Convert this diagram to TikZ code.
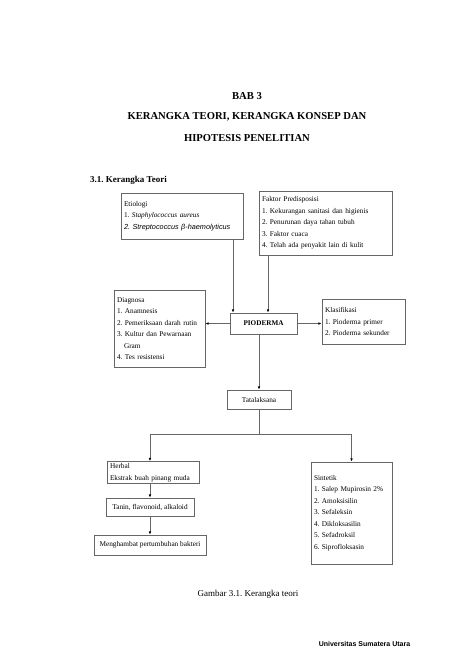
\documentclass[tikz,border=0pt]{standalone}
\usepackage{fontspec}
\setmainfont{Liberation Serif}
\setsansfont{Liberation Sans}
\usetikzlibrary{arrows.meta,calc}
\frenchspacing
\begin{document}
\begin{tikzpicture}[x=1pt,y=-1pt,
  box/.style={draw=black!60, line width=0.7pt, inner sep=0pt, align=left,
    font=\fontsize{7.3}{11.5}\selectfont},
  arr/.style={draw=black!60, line width=0.7pt, -{Latex[length=3.2pt,width=2.6pt,black]}},
  ln/.style={draw=black!60, line width=0.7pt},
  ttl/.style={font=\fontsize{10.6}{12}\selectfont\bfseries}]
\useasboundingbox (0,0) rectangle (474,669);
\fill[white] (0,0) rectangle (474,669);
% titles
\node[ttl] (bab) at (247,96) {BAB 3};
\node[ttl] (t1) at (247,117) {KERANGKA TEORI, KERANGKA KONSEP DAN};
\node[ttl] (t2) at (247,138) {HIPOTESIS PENELITIAN};
\node[font=\fontsize{9}{11}\selectfont\bfseries, anchor=west, inner sep=0pt] (sec) at (90,180) {3.1. Kerangka Teori};
% boxes
\node[box, minimum width=122pt, minimum height=46pt, text width=116pt] (etio) at (182,216)
  {Etiologi\\1. \textit{Staphylococcus aureus}\\{\sffamily\itshape 2. Streptococcus β-haemolyticus}};
\node[box, minimum width=133pt, minimum height=64pt, text width=127pt] (fakt) at (325.5,223)
  {Faktor Predisposisi\\1. Kekurangan sanitasi dan higienis\\2. Penurunan daya tahan tubuh\\3. Faktor cuaca\\4. Telah ada penyakit lain di kulit};
\node[box, minimum width=67pt, minimum height=21pt, font=\fontsize{7.2}{9}\selectfont\bfseries, align=center] (pio) at (263.5,323.5) {PIODERMA};
\node[box, minimum width=91pt, minimum height=77pt, text width=85pt] (diag) at (159.5,328.5)
  {Diagnosa\\1. Anamnesis\\2. Pemeriksaan darah rutin\\3. Kultur dan Pewarnaan\\\hspace*{7pt}Gram\\4. Tes resistensi};
\node[box, minimum width=83pt, minimum height=45pt, text width=77pt] (klas) at (363.5,321.5)
  {Klasifikasi\\1. Pioderma primer\\2. Pioderma sekunder};
\node[box, minimum width=64pt, minimum height=19pt, align=center] (tata) at (259,399.5) {Tatalaksana};
\node[box, minimum width=92pt, minimum height=22pt, text width=86pt] (herb) at (153,472.5)
  {Herbal\\Ekstrak buah pinang muda};
\node[box, minimum width=88pt, minimum height=18pt, align=center] (tan) at (150,507) {Tanin, flavonoid, alkaloid};
\node[box, minimum width=112pt, minimum height=20pt, align=center] (meng) at (150,545) {Menghambat pertumbuhan bakteri};
\node[box, minimum width=81pt, minimum height=102pt, text width=75pt] (sint) at (351.5,513)
  {Sintetik\\1. Salep Mupirosin 2\%\\2. Amoksisilin\\3. Sefaleksin\\4. Dikloksasilin\\5. Sefadroksil\\6. Siprofloksasin\\[7pt]};
% caption and footer
\node[font=\fontsize{9}{11}\selectfont, inner sep=0pt] (cap) at (248,594) {Gambar 3.1. Kerangka teori};
\node[font=\fontsize{7}{9}\selectfont\sffamily\bfseries, inner sep=0pt] (foot) at (364.5,644) {Universitas Sumatera Utara};
% connectors
\coordinate (e1) at (233,0);
\coordinate (f1) at (268,0);
\coordinate (j) at (259,434);
\draw[arr] (etio.south -| e1) -- (pio.north -| e1);
\draw[arr] (fakt.south -| f1) -- (pio.north -| f1);
\draw[arr] (pio.west) -- (diag.east |- pio.west);
\draw[arr] (pio.east) -- (klas.west |- pio.east);
\draw[arr] (pio.south -| tata.north) -- (tata.north);
\draw[ln] (tata.south) -- (j);
\draw[arr] (j) -| (herb.north -| tan.north);
\draw[arr] (j) -| (sint.north);
\draw[arr] (herb.south -| tan.north) -- (tan.north);
\draw[arr] (tan.south) -- (meng.north);
\end{tikzpicture}
\end{document}
